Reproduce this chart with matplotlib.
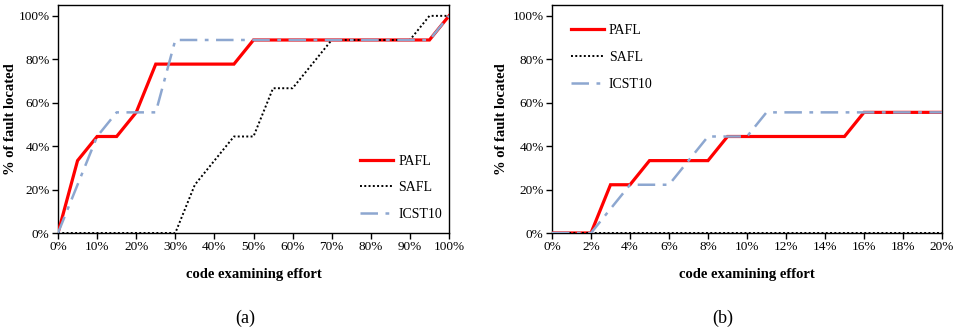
import matplotlib
matplotlib.use("Agg")
import matplotlib.pyplot as plt
from matplotlib.ticker import FuncFormatter, MultipleLocator

plt.rcParams['font.family'] = ['Liberation Serif', 'DejaVu Serif']

# ---- data (fraction of faults located, 9 faults) ----
effort_a = [0, 5, 10, 15, 20, 25, 30, 35, 40, 45, 50, 55, 60, 65, 70, 75, 80, 85, 90, 95, 100]
pafl_a = [0, 3/9, 4/9, 4/9, 5/9, 7/9, 7/9, 7/9, 7/9, 7/9, 8/9, 8/9, 8/9, 8/9, 8/9, 8/9, 8/9, 8/9, 8/9, 8/9, 1.0]
safl_a = [0, 0, 0, 0, 0, 0, 0, 2/9, 3/9, 4/9, 4/9, 6/9, 6/9, 7/9, 8/9, 8/9, 8/9, 8/9, 8/9, 1.0, 1.0]
icst_a = [0, 2/9, 4/9, 5/9, 5/9, 5/9, 8/9, 8/9, 8/9, 8/9, 8/9, 8/9, 8/9, 8/9, 8/9, 8/9, 8/9, 8/9, 8/9, 8/9, 1.0]

effort_b = list(range(0, 21))
pafl_b = [0, 0, 0, 2/9, 2/9, 3/9, 3/9, 3/9, 3/9, 4/9, 4/9, 4/9, 4/9, 4/9, 4/9, 4/9, 5/9, 5/9, 5/9, 5/9, 5/9]
safl_b = [0] * 21
icst_b = [0, 0, 0, 1/9, 2/9, 2/9, 2/9, 3/9, 4/9, 4/9, 4/9, 5/9, 5/9, 5/9, 5/9, 5/9, 5/9, 5/9, 5/9, 5/9, 5/9]

labels = ["PAFL", "SAFL", "ICST10"]
panel_names = ["(a)", "(b)"]

W, H = 957, 334
fig = plt.figure(figsize=(W / 100, H / 100), dpi=100)

def px_axes(l, r, t, b):
    return fig.add_axes([l / W, 1 - b / H, (r - l) / W, (b - t) / H])

pct = FuncFormatter(lambda v, p: f"{v:.0f}%")
pcty = FuncFormatter(lambda v, p: f"{v*100:.0f}%")

def draw(ax, x, p, s, i, xmax, xstep, legend_anchor, ylab_x):
    ax.plot(x, p, color="#FF0000", lw=2.3, label=labels[0], zorder=3, solid_joinstyle="miter")
    ax.plot(x, s, color="black", lw=1.4, ls=(0, (1, 1.2)), label=labels[1], zorder=4)
    ax.plot(x, i, color="#8DA7D0", lw=1.8, ls=(0, (7, 3, 1.5, 3)), label=labels[2], zorder=5)
    ax.set_xlim(0, xmax)
    ax.set_ylim(0, 1.05)
    ax.xaxis.set_major_locator(MultipleLocator(xstep))
    ax.yaxis.set_major_locator(MultipleLocator(0.2))
    ax.xaxis.set_major_formatter(pct)
    ax.yaxis.set_major_formatter(pcty)
    ax.tick_params(axis="both", direction="out", length=4, width=1, labelsize=9.5, pad=2)
    for sp in ax.spines.values():
        sp.set_linewidth(1.0)
    ax.set_xlabel("code examining effort", fontsize=10.5, fontweight="bold")
    ax.set_ylabel("% of fault located", fontsize=10.5, fontweight="bold")
    ax.xaxis.set_label_coords(0.5, -0.153)
    ax.yaxis.set_label_coords(ylab_x, 0.5)
    ax.legend(loc="center left", bbox_to_anchor=legend_anchor, frameon=False, fontsize=10,
              handlelength=2.4, handletextpad=0.35, labelspacing=0.98, borderpad=0)

ax1 = px_axes(58, 449, 5, 233)
draw(ax1, effort_a, pafl_a, safl_a, icst_a, 100, 10, (0.755, 0.198), -0.105)
ax2 = px_axes(552, 942, 5, 233)
draw(ax2, effort_b, pafl_b, safl_b, icst_b, 20, 2, (0.03, 0.77), -0.113)

fig.text(245 / W, 1 - 318 / H, panel_names[0], ha="center", va="center", fontsize=13)
fig.text(723 / W, 1 - 318 / H, panel_names[1], ha="center", va="center", fontsize=13)

fig.savefig("out.png", dpi=100)
